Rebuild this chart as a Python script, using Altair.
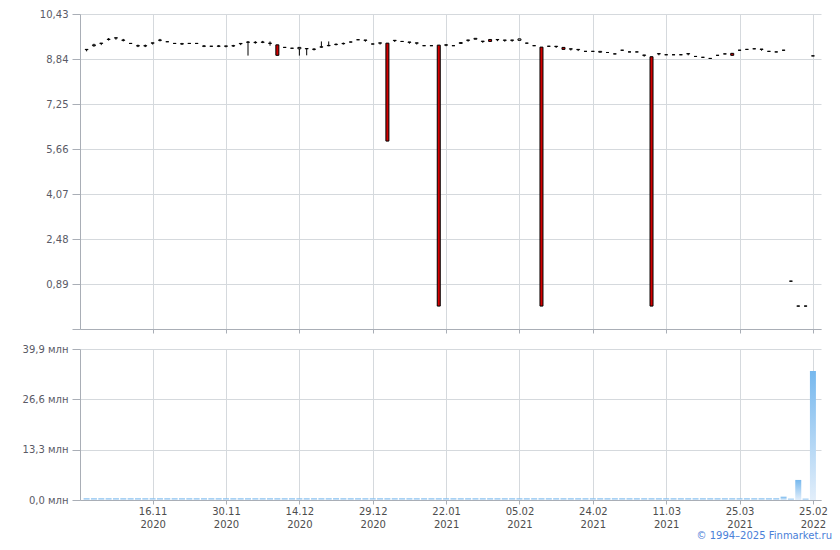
import altair as alt
import pandas as pd

# ---- data ----
opens = [9.17, 9.31, 9.39, 9.53, 9.58, 9.50, 9.39, 9.30, 9.30, 9.40,
         9.50, 9.45, 9.39, 9.37, 9.39, 9.39, 9.29, 9.29, 9.29, 9.29,
         9.30, 9.38, 9.43, 9.42, 9.43, 9.39, 9.34, 9.25, 9.22, 9.20,
         9.20, 9.18, 9.26, 9.31, 9.35, 9.38, 9.44, 9.52, 9.50, 9.37,
         9.40, 9.40, 9.49, 9.46, 9.43, 9.40, 9.31, 9.31, 9.33, 9.33,
         9.31, 9.39, 9.50, 9.54, 9.46, 9.53, 9.52, 9.50, 9.50, 9.50,
         9.40, 9.31, 9.26, 9.29, 9.28, 9.25, 9.19, 9.17, 9.11, 9.11,
         9.08, 9.07, 9.02, 9.15, 9.09, 9.09, 8.97, 8.92, 9.02, 8.99,
         8.99, 8.99, 9.02, 8.93, 8.90, 8.86, 8.97, 9.02, 9.04, 9.15,
         9.18, 9.20, 9.18, 9.11, 9.09, 9.15, 0.99, 0.11, 0.11, 8.95]
closes = [9.18, 9.34, 9.40, 9.54, 9.59, 9.51, 9.39, 9.31, 9.31, 9.41,
          9.51, 9.45, 9.39, 9.38, 9.39, 9.39, 9.30, 9.29, 9.30, 9.30,
          9.31, 9.39, 9.44, 9.43, 9.44, 9.40, 8.97, 9.25, 9.22, 9.25,
          9.21, 9.19, 9.27, 9.32, 9.36, 9.39, 9.44, 9.52, 9.51, 9.37,
          9.41, 5.94, 9.50, 9.46, 9.44, 9.41, 9.31, 9.31, 0.11, 9.34,
          9.31, 9.42, 9.51, 9.57, 9.47, 9.46, 9.53, 9.51, 9.51, 9.55,
          9.40, 9.31, 0.11, 9.29, 9.29, 9.18, 9.20, 9.18, 9.11, 9.11,
          9.11, 9.07, 9.02, 9.15, 9.09, 9.09, 8.98, 0.11, 9.03, 8.99,
          8.99, 8.99, 9.03, 8.93, 8.90, 8.86, 8.97, 9.02, 8.97, 9.15,
          9.18, 9.20, 9.19, 9.11, 9.09, 9.15, 0.99, 0.11, 0.11, 8.95]
highs = [9.18, 9.38, 9.40, 9.58, 9.59, 9.55, 9.40, 9.35, 9.35, 9.41,
         9.55, 9.46, 9.40, 9.41, 9.40, 9.40, 9.33, 9.30, 9.33, 9.30,
         9.34, 9.39, 9.47, 9.47, 9.48, 9.46, 9.34, 9.26, 9.23, 9.25,
         9.21, 9.22, 9.46, 9.46, 9.39, 9.42, 9.45, 9.53, 9.51, 9.38,
         9.41, 9.40, 9.50, 9.47, 9.44, 9.41, 9.32, 9.32, 9.33, 9.37,
         9.32, 9.42, 9.51, 9.57, 9.47, 9.53, 9.53, 9.51, 9.51, 9.55,
         9.41, 9.32, 9.26, 9.30, 9.29, 9.25, 9.20, 9.18, 9.12, 9.12,
         9.11, 9.08, 9.03, 9.16, 9.10, 9.10, 8.98, 8.92, 9.03, 9.00,
         9.00, 9.00, 9.03, 8.94, 8.91, 8.87, 8.98, 9.03, 9.04, 9.16,
         9.19, 9.21, 9.19, 9.12, 9.10, 9.16, 1.00, 0.12, 0.12, 8.96]
lows = [9.11, 9.27, 9.33, 9.49, 9.52, 9.46, 9.38, 9.26, 9.26, 9.35,
        9.46, 9.44, 9.38, 9.34, 9.38, 9.38, 9.26, 9.28, 9.26, 9.25,
        9.27, 9.33, 8.96, 9.38, 9.40, 9.31, 8.97, 9.24, 9.21, 8.96,
        8.97, 9.14, 9.24, 9.29, 9.32, 9.35, 9.43, 9.51, 9.45, 9.36,
        9.35, 5.94, 9.44, 9.45, 9.38, 9.35, 9.30, 9.30, 0.11, 9.29,
        9.30, 9.39, 9.45, 9.54, 9.41, 9.46, 9.47, 9.45, 9.45, 9.50,
        9.39, 9.30, 0.11, 9.28, 9.23, 9.18, 9.14, 9.12, 9.10, 9.10,
        9.08, 9.06, 9.01, 9.14, 9.08, 9.08, 8.92, 0.11, 8.97, 8.98,
        8.98, 8.98, 8.97, 8.92, 8.89, 8.85, 8.96, 9.01, 8.97, 9.14,
        9.17, 9.19, 9.13, 9.10, 9.08, 9.14, 0.98, 0.10, 0.10, 8.94]
volumes = [0.45] * 95 + [0.87, 0.35, 5.3, 0.35, 34.1]

tick_idx = [9, 19, 29, 39, 49, 59, 69, 79, 89, 99]
tick_day = ["16.11", "30.11", "14.12", "29.12", "22.01", "05.02", "24.02", "11.03", "25.03", "25.02"]
tick_year = ["2020", "2020", "2020", "2020", "2021", "2021", "2021", "2021", "2021", "2022"]
price_ticks = [-0.70, 0.89, 2.48, 4.07, 5.66, 7.25, 8.84, 10.43]
vol_ticks = [0.0, 13.3, 26.6, 39.9]
watermark = "© 1994–2025 Finmarket.ru"

df = pd.DataFrame({
    "i": list(range(len(opens))),
    "open": opens, "close": closes, "high": highs, "low": lows,
    "vol": volumes,
})
df["dir"] = ["down" if c < o else "up" for o, c in zip(opens, closes)]

# label expression for the ordinal trading-day axis
expr = "''"
for t, d, y in reversed(list(zip(tick_idx, tick_day, tick_year))):
    expr = f"datum.value == {t} ? ['{d}', '{y}'] : ({expr})"

xdom = [-0.9, 100.1]
W = 741
xscale = alt.Scale(domain=xdom, nice=False, zero=False, padding=0)

x_top = alt.X("i:Q", scale=xscale,
              axis=alt.Axis(values=tick_idx, labels=False, title=None, tickSize=4,
                            grid=True))
x_bot = alt.X("i:Q", scale=xscale,
              axis=alt.Axis(values=tick_idx, labelExpr=expr, title=None, tickSize=4,
                            grid=True, labelLineHeight=13, labelPadding=2,
                            labelColor="#4d4d4d"))

ytop_axis = alt.Axis(values=price_ticks, title=None, tickSize=8, labelPadding=4,
                     minExtent=60, maxExtent=60,
                     labelExpr="datum.value < 0 ? '' : replace(format(datum.value, '.2f'), '.', ',')")
yscale_top = alt.Scale(domain=[-0.70, 10.43], nice=False, zero=False)

base = alt.Chart(df)
wicks = base.mark_rule(color="black", strokeWidth=1).encode(
    x=x_top,
    y=alt.Y("low:Q", scale=yscale_top, axis=ytop_axis),
    y2="high:Q",
)
bodies = base.mark_bar(size=3, stroke="black", strokeWidth=1).encode(
    x=x_top,
    y=alt.Y("open:Q", scale=yscale_top, axis=ytop_axis),
    y2="close:Q",
    fill=alt.Fill("dir:N", scale=alt.Scale(domain=["up", "down"], range=["white", "#d40000"]),
                  legend=None),
)
top = alt.layer(wicks, bodies).properties(width=W, height=315)

grad = alt.Gradient(
    gradient="linear",
    stops=[alt.GradientStop(color="#76b8ee", offset=0),
           alt.GradientStop(color="#e2eefa", offset=1)],
    x1=1, x2=1, y1=0, y2=1,
)
vol_bars = base.mark_bar(size=6, color=grad).encode(
    x=x_bot,
    y=alt.Y("vol:Q", scale=alt.Scale(domain=[0, 39.9], nice=False),
            axis=alt.Axis(values=vol_ticks, title=None, tickSize=8, labelPadding=4,
                          minExtent=60, maxExtent=60,
                          labelExpr="replace(format(datum.value, '.1f'), '.', ',') + ' млн'")),
)
wm = alt.Chart(pd.DataFrame({"t": [watermark]})).mark_text(
    align="right", baseline="bottom", color="#4a80d8", fontSize=10, font="DejaVu Sans"
).encode(x=alt.value(752), y=alt.value(192), text="t:N")

bottom = alt.layer(vol_bars, wm).properties(width=W, height=151)

chart = alt.vconcat(top, bottom, spacing=20, bounds="flush").properties(
    padding={"left": 12, "top": 1, "right": 0, "bottom": 0}
).configure_axis(
    labelFont="DejaVu Sans", labelFontSize=10, labelColor="#5a5a66",
    gridColor="#d5d9dd", domainColor="#a9aeb6", tickColor="#a9aeb6",
).configure_view(stroke=None)

chart.save("out.html", embed_options={"renderer": "svg", "actions": False})
